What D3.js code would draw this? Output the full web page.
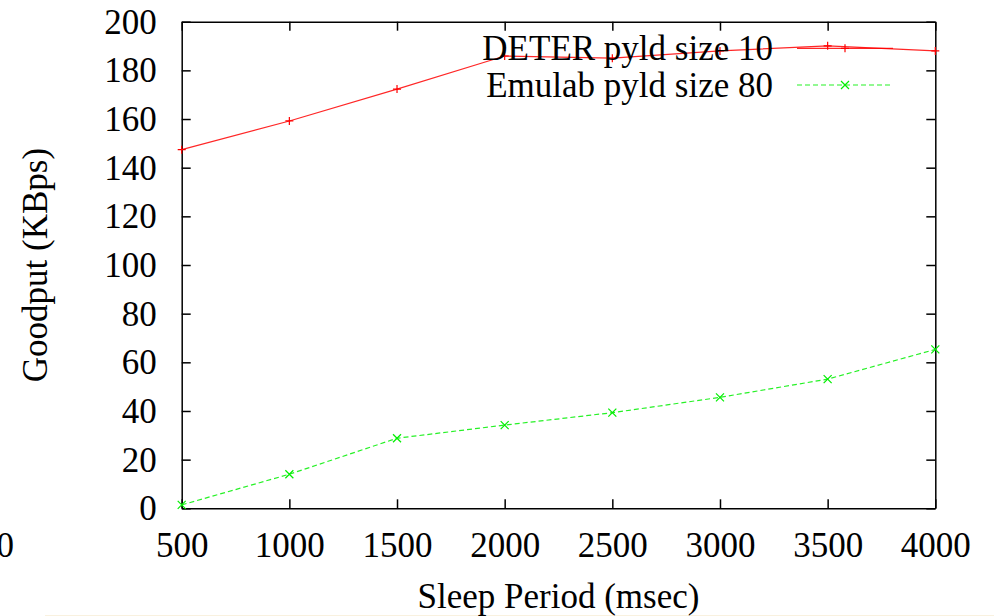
<!DOCTYPE html>
<html>
<head>
<meta charset="utf-8">
<script src="https://cdn.jsdelivr.net/npm/d3@7"></script>
<style>
  body { margin: 0; background: #fff; }
  svg { display: block; font-family: "Liberation Serif", "Times New Roman", serif; }
  .axis path, .axis line { stroke: #000; stroke-width: 1.5; }
  .axis text { font-size: 35px; fill: #000; font-family: "Liberation Serif", serif; }
</style>
</head>
<body>
<svg id="chart" width="994" height="616"></svg>
<script>
// sleep period (msec)
let sleepPeriods = [500, 1000, 1500, 2000, 2500, 3000, 3500, 4000];
// goodput (KBps)
let deterValues = [147.4, 159.2, 172.3, 185.9, 185.0, 188.0, 190.1, 188.0];
let emulabValues = [1.4, 14.0, 28.8, 34.2, 39.3, 45.6, 53.1, 65.3];
let seriesNames = ["DETER pyld size 10", "Emulab pyld size 80"];
let xTicks = [500, 1000, 1500, 2000, 2500, 3000, 3500, 4000];
let yTicks = [0, 20, 40, 60, 80, 100, 120, 140, 160, 180, 200];

var width = 994, height = 616;
var plotLeft = 181.7, plotRight = 935.3, plotTop = 21.7, plotBottom = 508.3;

var svg = d3.select('#chart');

var x = d3.scaleLinear().domain([500, 4000]).range([plotLeft, plotRight]);
var y = d3.scaleLinear().domain([0, 200]).range([plotBottom, plotTop]);

// faint strip at very bottom (page edge in the scan)
svg.append('rect')
    .attr('x', 45).attr('y', 615)
    .attr('width', width - 45).attr('height', 1)
    .attr('fill', '#f9f1df');

// axes, ticks pointing inward like gnuplot
svg.append('g')
    .attr('class', 'axis')
    .attr('transform', 'translate(0,' + plotBottom + ')')
    .call(d3.axisBottom(x).tickValues(xTicks).tickSizeInner(-9).tickSizeOuter(0).tickPadding(24).tickFormat(d3.format('d')))
    .call(g => g.selectAll('text').attr('dy', '0.71em'));

svg.append('g')
    .attr('class', 'axis')
    .attr('transform', 'translate(0,' + plotTop + ')')
    .call(d3.axisTop(x).tickValues(xTicks).tickSizeInner(-9).tickSizeOuter(0).tickFormat(''));

svg.append('g')
    .attr('class', 'axis')
    .attr('transform', 'translate(' + plotLeft + ',0)')
    .call(d3.axisLeft(y).tickValues(yTicks).tickSizeInner(-9).tickSizeOuter(0).tickPadding(25))
    .call(g => g.selectAll('text').attr('dy', '0.33em'));

svg.append('g')
    .attr('class', 'axis')
    .attr('transform', 'translate(' + plotRight + ',0)')
    .call(d3.axisRight(y).tickValues(yTicks).tickSizeInner(-9).tickSizeOuter(0).tickFormat(''));

// axis titles
svg.append('text')
    .attr('transform', 'translate(47,' + ((plotTop + plotBottom) / 2) + ') rotate(-90)')
    .attr('text-anchor', 'middle')
    .attr('font-size', 35)
    .text('Goodput (KBps)');

svg.append('text')
    .attr('x', (plotLeft + plotRight) / 2)
    .attr('y', 608)
    .attr('text-anchor', 'middle')
    .attr('font-size', 35)
    .text('Sleep Period (msec)');

// stray digit clipped at left edge
svg.append('text')
    .attr('x', 14)
    .attr('y', 557)
    .attr('text-anchor', 'end')
    .attr('font-size', 35)
    .text('0');

var series = [
    { name: seriesNames[0], values: deterValues, color: '#ff0000', dash: null, marker: 'plus' },
    { name: seriesNames[1], values: emulabValues, color: '#00ee00', dash: '5,3', marker: 'cross' }
];

var line = d3.line()
    .x((d, i) => x(sleepPeriods[i]))
    .y(d => y(d));

function drawMarker(g, cx, cy, s) {
    var r = 4;
    if (s.marker === 'plus') {
        g.append('path')
            .attr('d', 'M' + (cx - r) + ',' + cy + 'H' + (cx + r) + 'M' + cx + ',' + (cy - r) + 'V' + (cy + r))
            .attr('stroke', s.color).attr('stroke-width', 1.2).attr('fill', 'none');
    } else {
        g.append('path')
            .attr('d', 'M' + (cx - r) + ',' + (cy - r) + 'L' + (cx + r) + ',' + (cy + r) + 'M' + (cx - r) + ',' + (cy + r) + 'L' + (cx + r) + ',' + (cy - r))
            .attr('stroke', s.color).attr('stroke-width', 1.2).attr('fill', 'none');
    }
}

series.forEach(function (s, k) {
    var g = svg.append('g');
    g.append('path')
        .datum(s.values)
        .attr('d', line)
        .attr('fill', 'none')
        .attr('stroke', s.color)
        .attr('stroke-width', 1.2)
        .attr('stroke-opacity', 0.85)
        .attr('stroke-dasharray', s.dash);
    s.values.forEach(function (v, i) {
        drawMarker(g, x(sleepPeriods[i]), y(v), s);
    });

    // legend entry
    var ly = 48.3 + k * 36.7;
    svg.append('text')
        .attr('x', 773)
        .attr('y', ly + 12)
        .attr('text-anchor', 'end')
        .attr('font-size', 35)
        .text(s.name);
    svg.append('line')
        .attr('x1', 797).attr('x2', 893)
        .attr('y1', ly).attr('y2', ly)
        .attr('stroke', s.color)
        .attr('stroke-width', 1.2)
        .attr('stroke-opacity', 0.85)
        .attr('stroke-dasharray', s.dash);
    drawMarker(svg, 845, ly, s);
});
</script>
</body>
</html>
